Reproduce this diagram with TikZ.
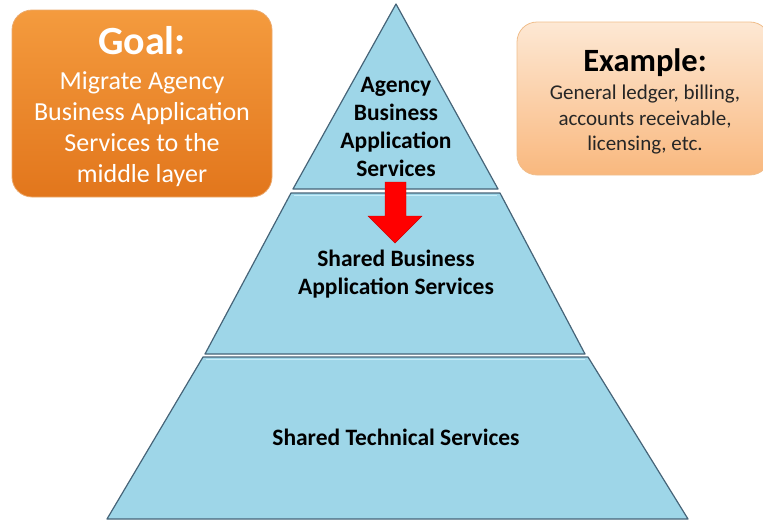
\documentclass[tikz,border=0pt]{standalone}
\usepackage{fontspec}
\setmainfont{Carlito}
\definecolor{tierfill}{RGB}{158,214,232}
\definecolor{tieredge}{RGB}{70,100,120}
\definecolor{tierlight}{RGB}{200,238,250}
\definecolor{goaltop}{RGB}{244,155,62}
\definecolor{goalbot}{RGB}{226,118,28}
\definecolor{goaledge}{RGB}{235,170,110}
\definecolor{extop}{RGB}{253,232,212}
\definecolor{exbot}{RGB}{249,184,126}
\definecolor{exedge}{RGB}{240,190,140}
\definecolor{arrowred}{RGB}{255,0,0}
\tikzset{
  tier/.style={fill=tierfill, draw=tieredge, line width=1.2pt, line join=round},
  tiertext/.style={align=center, text=black, font=\fontsize{23.5}{28}\selectfont\bfseries},
  goalbox/.style={rounded corners=20pt, top color=goaltop, bottom color=goalbot, draw=goaledge, line width=0.8pt},
  exbox/.style={rounded corners=20pt, top color=extop, bottom color=exbot, draw=exedge, line width=0.8pt},
  redarrow/.style={fill=arrowred, draw=arrowred!80!black, line width=0.4pt, line join=miter}
}
\begin{document}
\begin{tikzpicture}[x=1pt,y=-1pt]
\useasboundingbox (0,0) rectangle (763,522);
% pyramid tiers
\draw[tier] (396,4) -- (498,189) -- (293,189) -- cycle;
\draw[tier] (291,193) -- (500,193) -- (585,354) -- (205,354) -- cycle;
\draw[tier] (203,357) -- (588,357) -- (688,519) -- (107,519) -- cycle;
\draw[tierlight, line width=1pt] (294,195) -- (497,195);
\draw[tierlight, line width=1pt] (206,359) -- (585,359);
% tier texts
\node[tiertext] (top) at (396,127) {Agency\\Business\\Application\\Services};
\node[tiertext] (mid) at (396,274) {Shared Business\\Application Services};
\node[tiertext] (bot) at (396,437) {Shared Technical Services};
% red arrow
\draw[redarrow] (385,182) -- (406,182) -- (406,216) -- (422,216) -- (395,243) -- (368,216) -- (385,216) -- cycle;
% goal box
\draw[goalbox] (12,10) rectangle (272,197);
\node[text=white, font=\fontsize{40}{42}\selectfont\bfseries] (goal) at (142,41) {Goal:};
\node[text=white, align=center, font=\fontsize{26}{31}\selectfont] (goalbody) at (142,129) {Migrate Agency\\Business Application\\Services to the\\middle layer};
% example box
\draw[exbox] (517,22) rectangle (770,175);
\node[text=black, font=\fontsize{32.5}{34}\selectfont\bfseries] (ex) at (645,63) {Example:};
\node[text=black!85, align=center, font=\fontsize{21}{25.5}\selectfont] (exbody) at (645,120) {General ledger, billing,\\accounts receivable,\\licensing, etc.};
\end{tikzpicture}
\end{document}
